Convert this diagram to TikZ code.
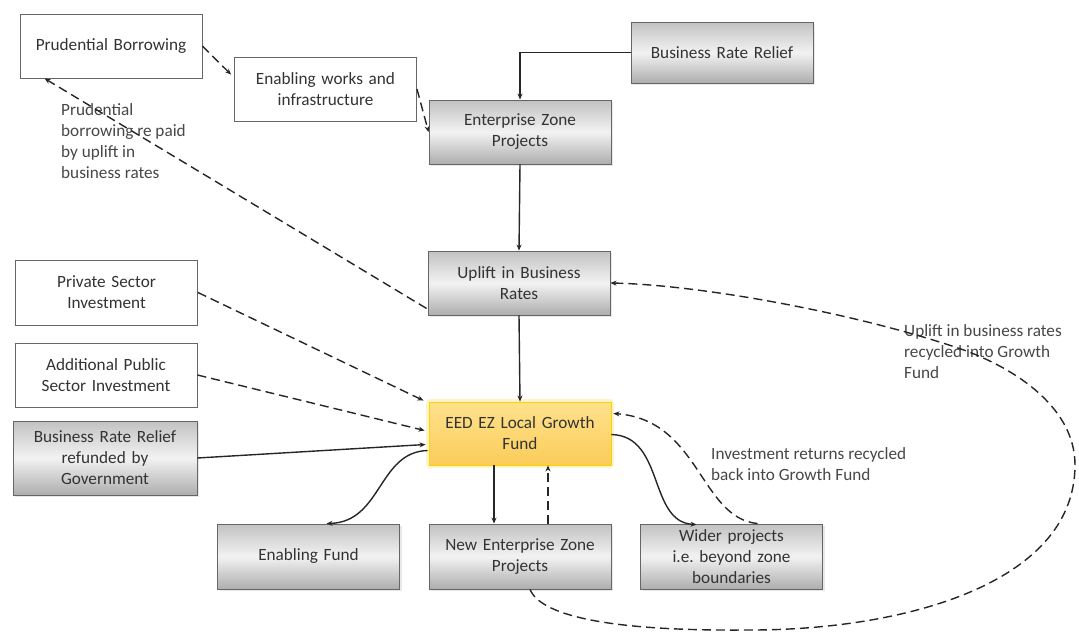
\documentclass[tikz,border=0pt]{standalone}
\usepackage{fontspec}
\setmainfont{Carlito}
\usetikzlibrary{arrows.meta,calc,shadows}
\begin{document}
\frenchspacing
\begin{tikzpicture}[x=1pt,y=1pt,
  font=\fontsize{17.2}{21}\selectfont,
  txt/.style={text=black!80},
  box/.style={draw=black!60, line width=0.9pt, minimum width=182pt, minimum height=64pt,
    inner sep=2pt, align=center, txt, text width=176pt},
  plainbox/.style={box, fill=white},
  graybox/.style={box, top color=black!24, bottom color=black!32, middle color=black!5,
    drop shadow={opacity=0.18, shadow xshift=2pt, shadow yshift=-2pt}},
  fundbox/.style={box, draw=yellow!70!orange, top color={rgb,255:red,255;green,226;blue,140},
    bottom color={rgb,255:red,250;green,204;blue,90}},
  note/.style={anchor=north west, align=left, inner sep=0pt, text=black!72},
  tip/.style={-{Stealth[length=6pt,width=5pt]}},
  link/.style={tip, line width=1.4pt, black!85},
  dlink/.style={link, dash pattern=on 9pt off 5pt}
]
\useasboundingbox (0,0) rectangle (1079,-637);

% boxes
\node[plainbox] (pb)   at (111,-46)   {Prudential Borrowing};
\node[plainbox] (ew)   at (325.5,-89) {Enabling works and\\infrastructure};
\node[graybox, minimum height=61pt] (brr) at (722,-52.5) {Business Rate Relief};
\node[graybox]  (ezp)  at (520,-132)  {Enterprise Zone\\Projects};
\node[graybox]  (ubr)  at (519,-283)  {Uplift in Business\\Rates};
\node[plainbox, minimum height=65pt] (psi) at (106.5,-292.5) {Private Sector\\Investment};
\node[plainbox] (apsi) at (106,-375)  {Additional Public\\Sector Investment};
\node[graybox, minimum width=184pt, minimum height=74pt] (brrg) at (105,-458) {Business Rate Relief\\refunded by\\Government};
% glow behind the fund box
\fill[yellow!60!orange, opacity=0.22, rounded corners=4pt] (426,-399) rectangle (614,-468);
\node[fundbox, minimum height=63pt] (gf) at (520,-433.5) {EED EZ Local Growth\\Fund};
\node[graybox, minimum height=65pt] (ef)   at (308.5,-556.5) {Enabling Fund};
\node[graybox, minimum height=65pt] (nezp) at (520,-556.5)   {New Enterprise Zone\\Projects};
\node[graybox, minimum height=65pt] (wp)   at (731.5,-556.5) {Wider projects\\i.e. beyond zone\\boundaries};

% notes
\node[note] (n1) at (61,-103)  {Prudential\\borrowing re paid\\by uplift in\\business rates};
\node[note] (n2) at (904,-324) {Uplift in business rates\\recycled into Growth\\Fund};
\node[note] (n3) at (711,-447) {Investment returns recycled\\back into Growth Fund};

% waypoints of the large return loop
\coordinate (w1) at (745,-630);
\coordinate (w2) at (1075,-465);
\coordinate (w3) at (955,-347);

% connectors
\draw[dlink] (pb.east) -- ($(ew.north west)+(-3,-18)$);
\draw[dlink] (ew.east) -- (ezp.west);
\draw[link] (brr.west) -| (ezp.north);
\draw[link] (ezp.south) -- (ubr.north);
\draw[link] (ubr.south) -- (gf.north);
\draw[dlink] ($(ubr.south west)+(-1,7)$) -- ($(pb.south west)+(25,0)$);
\draw[dlink] (psi.east) -- ($(gf.north west)+(-5,1)$);
\draw[dlink] (apsi.east) -- ($(gf.west)+(-4,3)$);
\draw[link] (brrg.east) -- ($(gf.west)+(-3,-11)$);
\draw[link] ($(gf.west)+(-1,-17)$) .. controls (378,-452) and (382,-522) .. ($(ef.north)+(18,0)$);
\draw[link] ($(gf.south)+(-26,0)$) -- ($(nezp.north)+(-26,0)$);
\draw[dlink] ($(nezp.north)+(28,0)$) -- ($(gf.south)+(28,0)$);
\draw[link] ($(gf.east)+(0,-1)$) .. controls (665,-436) and (648,-522) .. ($(wp.north)+(-35,-1)$);
\draw[dlink] ($(wp.north)+(26,0)$) .. controls (700,-518) and (700,-420) .. ($(gf.east)+(2,20)$);
\draw[dlink] ($(nezp.south)+(10,0)$) .. controls (542,-618) and (620,-631) .. (w1)
  .. controls (900,-631) and (1075,-585) .. (w2)
  .. controls (1075,-405) and (1010,-365) .. (w3)
  .. controls (850,-312) and (700,-285) .. (ubr.east);
\end{tikzpicture}
\end{document}
